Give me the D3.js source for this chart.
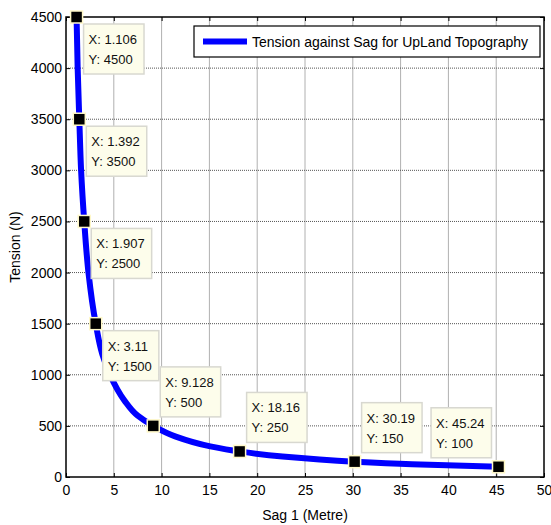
<!DOCTYPE html>
<html><head><meta charset="utf-8">
<script src="https://cdn.jsdelivr.net/npm/d3@7"></script>
<style>body{margin:0;background:#fff;} svg{display:block;}</style>
</head><body><svg id="c" width="551" height="525"></svg>
<script>
// Curve data (sag in metres, tension in N)
const sagValues = [1.106, 1.22, 1.392, 1.58, 1.907, 2.35, 3.11, 3.8, 4.6, 6.1, 7.5, 9.128, 11.35, 15.1, 18.16, 22.65, 30.19, 36.2, 45.24];
const tensionValues = [4500, 4000, 3500, 3000, 2500, 2000, 1500, 1200, 1000, 750, 600, 500, 400, 300, 250, 200, 150, 125, 100];
// Data tips
const tipX = [1.106, 1.392, 1.907, 3.11, 9.128, 18.16, 30.19, 45.24];
const tipY = [4500, 3500, 2500, 1500, 500, 250, 150, 100];
const tipXLabels = ["1.106", "1.392", "1.907", "3.11", "9.128", "18.16", "30.19", "45.24"];
const tipPlace = ["br", "br", "br", "br", "tr", "tr", "tr", "tl"];
const xTicks = [0, 5, 10, 15, 20, 25, 30, 35, 40, 45, 50];
const yTicks = [0, 500, 1000, 1500, 2000, 2500, 3000, 3500, 4000, 4500];
const legendLabel = "Tension against Sag for UpLand Topography";

const svg = d3.select("#c");
const L = 66, R = 544, T = 17, B = 477;
const x = d3.scaleLinear().domain([0, 50]).range([L, R]);
const y = d3.scaleLinear().domain([0, 4500]).range([B, T]);
const font = "'Liberation Sans',Arial,sans-serif";

// grid
svg.append("g").selectAll("line").data(xTicks.slice(1, -1)).join("line")
  .attr("x1", d => x(d)).attr("x2", d => x(d)).attr("y1", T).attr("y2", B)
  .attr("stroke", "#b0b0b0").attr("stroke-width", 1);
svg.append("g").selectAll("line").data(yTicks.slice(1, -1)).join("line")
  .attr("x1", L).attr("x2", R).attr("y1", d => y(d)).attr("y2", d => y(d))
  .attr("stroke", "#555").attr("stroke-width", 1).attr("stroke-dasharray", "1,1");

// axes
const fmt = d3.format("d");
const xAxis = d3.axisBottom(x).tickValues(xTicks).tickFormat(fmt).tickSize(-4).tickPadding(8);
const yAxis = d3.axisLeft(y).tickValues(yTicks).tickFormat(fmt).tickSize(-4).tickPadding(4);
const gx = svg.append("g").attr("transform", `translate(0,${B})`).call(xAxis);
const gy = svg.append("g").attr("transform", `translate(${L},0)`).call(yAxis);
const gx2 = svg.append("g").attr("transform", `translate(0,${T})`).call(d3.axisTop(x).tickValues(xTicks).tickSize(-4).tickFormat(""));
const gy2 = svg.append("g").attr("transform", `translate(${R},0)`).call(d3.axisRight(y).tickValues(yTicks).tickSize(-4).tickFormat(""));
[gx, gy, gx2, gy2].forEach(g => {
  g.select(".domain").remove();
  g.selectAll("line").attr("stroke", "#000");
  g.selectAll("text").attr("font-family", font).attr("font-size", 14).attr("fill", "#000");
});
svg.append("rect").attr("x", L).attr("y", T).attr("width", R - L).attr("height", B - T)
  .attr("fill", "none").attr("stroke", "#000").attr("stroke-width", 1.5);

// curve
const pts = sagValues.map((s, i) => [s, tensionValues[i]]);
svg.append("path").datum(pts)
  .attr("d", d3.line().x(d => x(d[0])).y(d => y(d[1])).curve(d3.curveMonotoneY))
  .attr("fill", "none").attr("stroke", "#0000ff").attr("stroke-width", 6).attr("stroke-linejoin", "round");

// data tips
tipX.forEach((xv, i) => {
  const px = x(xv), py = y(tipY[i]);
  const g = svg.append("g");
  const t1 = g.append("text").text("X: " + tipXLabels[i]);
  const t2 = g.append("text").text("Y: " + tipY[i]);
  [t1, t2].forEach(t => t.attr("font-family", font).attr("font-size", 13).attr("fill", "#111"));
  const w = Math.max(t1.node().getComputedTextLength(), t2.node().getComputedTextLength()) + 12;
  const h = 50;
  const bx = tipPlace[i][1] === "r" ? px + 7 : px - 7 - w;
  const by = tipPlace[i][0] === "b" ? py + 7 : py - 9 - h;
  g.insert("rect", "text").attr("x", bx).attr("y", by).attr("width", w).attr("height", h)
    .attr("fill", "#fdfdeb").attr("stroke", "#d8d8d0").attr("stroke-width", 1.5);
  t1.attr("x", bx + 5).attr("y", by + 20);
  t2.attr("x", bx + 5).attr("y", by + 40);
  svg.append("rect").attr("x", px - 6).attr("y", py - 6).attr("width", 12).attr("height", 12)
    .attr("fill", "#000").attr("stroke", "#fff8c8").attr("stroke-width", 1.5);
});

// legend
const lg = svg.append("g");
lg.append("rect").attr("x", 194).attr("y", 26).attr("width", 346).attr("height", 31)
  .attr("fill", "#fff").attr("stroke", "#000").attr("stroke-width", 1.2);
lg.append("line").attr("x1", 203).attr("x2", 247).attr("y1", 41.5).attr("y2", 41.5)
  .attr("stroke", "#0000ff").attr("stroke-width", 6);
lg.append("text").attr("x", 252).attr("y", 47).text(legendLabel)
  .attr("font-family", font).attr("font-size", 15).attr("fill", "#000")
  .attr("textLength", 276).attr("lengthAdjust", "spacingAndGlyphs");

// axis labels
svg.append("text").attr("x", x(25)).attr("y", 520).attr("text-anchor", "middle")
  .attr("font-family", font).attr("font-size", 14).text("Sag 1 (Metre)");
svg.append("text").attr("transform", `translate(20,${(T + B) / 2}) rotate(-90)`).attr("text-anchor", "middle")
  .attr("font-family", font).attr("font-size", 14).text("Tension (N)");
</script></body></html>
